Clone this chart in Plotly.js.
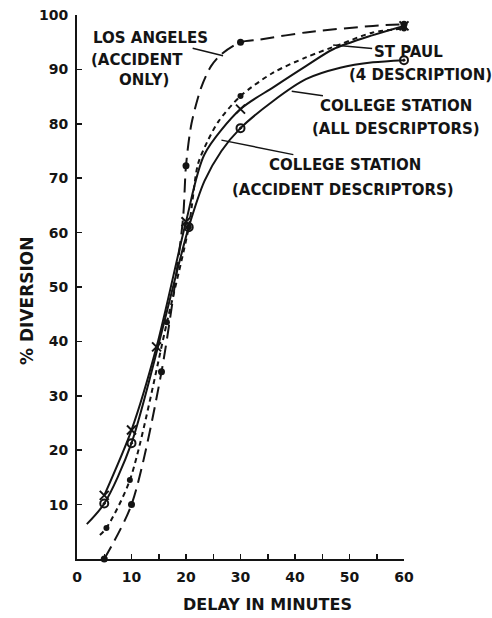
<!DOCTYPE html>
<html>
<head>
<meta charset="utf-8">
<script src="https://cdn.plot.ly/plotly-3.0.1.min.js"></script>
<style>
  html, body { margin: 0; padding: 0; background: #ffffff; }
  #chart { width: 492px; height: 618px; }
</style>
</head>
<body>
<div id="chart"></div>
<script>
// ---- Data (delay in minutes vs % diversion) ----
// Los Angeles (accident only) - long dashes
const laX = [5, 10, 15.5, 20, 30, 60];
const laY = [0, 10, 34.4, 72.3, 95, 98.3];
const laCurveX = [5, 10, 15.5, 19.4, 20, 21, 22.8, 24.6, 26.5, 30, 33.6, 42, 54.3, 60];
const laCurveY = [0, 10, 34.4, 62, 72.3, 80, 86.7, 90.6, 92.8, 95, 95.5, 96.8, 98, 98.3];

// College Station (accident descriptors) - short dashes
const csAccX = [5.4, 9.7, 16.5, 20.5, 30, 60];
const csAccY = [5.7, 14.5, 43.5, 61, 85.1, 97.5];
const csAccCurveX = [4.2, 5.4, 9.7, 16.5, 20.5, 22.2, 24, 26, 30, 36, 42, 48.3, 54.3, 60];
const csAccCurveY = [4.4, 5.7, 14.5, 43.5, 61, 72.6, 76.9, 80.5, 85.1, 89.4, 92.2, 94.6, 96.8, 97.5];

// St Paul (4 description) - solid, x marks
const spX = [5, 10, 14.6, 20, 30, 60];
const spY = [11.7, 23.7, 39, 62, 82.7, 98];
const spCurveX = [5, 10, 14.6, 20, 23.4, 30, 36, 42, 47, 54.3, 60];
const spCurveY = [11.7, 23.7, 39, 62, 74.4, 82.7, 86.7, 90.6, 93.7, 96.3, 98];

// College Station (all descriptors) - solid, circles
const csAllX = [5, 10, 20.5, 30, 60];
const csAllY = [10.2, 21.3, 61, 79.2, 91.7];
const csAllCurveX = [1.8, 5, 10, 20.5, 23.4, 26.5, 30, 36, 42, 48.3, 54.3, 60];
const csAllCurveY = [6.4, 10.2, 21.3, 61, 69.5, 75, 79.2, 84.2, 88.2, 90.3, 91.3, 91.7];

// Tick labels
const xTicks = [0, 10, 20, 30, 40, 50, 60];
const yTicks = [10, 20, 30, 40, 50, 60, 70, 80, 90, 100];

const INK = '#141414';
const FONT = 'DejaVu Sans, sans-serif';

function curve(x, y, dash) {
  return {
    x: x, y: y, type: 'scatter', mode: 'lines', hoverinfo: 'skip',
    line: { color: INK, width: 2, dash: dash, shape: 'spline', smoothing: 0.8 },
    cliponaxis: false, showlegend: false
  };
}
function marks(x, y, symbol, size, lw) {
  return {
    x: x, y: y, type: 'scatter', mode: 'markers', showlegend: false,
    marker: { symbol: symbol, size: size, color: INK, line: { color: INK, width: lw } },
    cliponaxis: false
  };
}

const traces = [
  curve(laCurveX, laCurveY, '14px,7px'),
  curve(csAccCurveX, csAccCurveY, '5px,4px'),
  curve(spCurveX, spCurveY, 'solid'),
  curve(csAllCurveX, csAllCurveY, 'solid'),
  marks(laX, laY, 'circle', 7, 0),
  marks(csAccX, csAccY, 'circle', 6, 0),
  marks(spX, spY, 'x-thin-open', 9, 2),
  marks(csAllX, csAllY, 'circle-open-dot', 8, 2)
];

const txtFont = { family: FONT, size: 15, color: INK, weight: 'bold' };
function px2paperX(p) { return (p - 77) / 327; }
function px2paperY(p) { return (559 - p) / 544; }
function label(text, cx, cy, size) {
  return {
    text: text, xref: 'paper', yref: 'paper', x: px2paperX(cx), y: px2paperY(cy),
    xanchor: 'center', yanchor: 'middle', showarrow: false,
    font: Object.assign({}, txtFont, size ? { size: size } : {})
  };
}
function pointer(text, x, y, ax, ay) {
  return {
    text: text, x: x, y: y, xref: 'x', yref: 'y', ax: ax, ay: ay,
    showarrow: true, arrowhead: 0, arrowwidth: 1.5, arrowcolor: INK, standoff: 0,
    font: txtFont
  };
}

const annotations = [
  pointer('LOS ANGELES', 26.8, 92.5, -73, -18),
  label('(ACCIDENT', 137, 60),
  label('ONLY)', 144, 80),
  pointer('ST PAUL', 47, 94.5, 75, 7),
  label('(4 DESCRIPTION)', 420, 75),
  pointer('COLLEGE STATION', 39.4, 86, 104, 15),
  label('(ALL DESCRIPTORS)', 396, 129),
  pointer('COLLEGE STATION', 26.5, 77, 124, 25),
  label('(ACCIDENT DESCRIPTORS)', 343, 190),
  label('DELAY IN MINUTES', 267, 604, 16),
  Object.assign(label('% DIVERSION', 27, 301, 17), { textangle: -90 })
];

const layout = {
  width: 492, height: 618,
  margin: { l: 77, r: 88, t: 15, b: 59 },
  paper_bgcolor: '#ffffff', plot_bgcolor: '#ffffff',
  showlegend: false,
  xaxis: {
    range: [0, 60], tickvals: xTicks, ticktext: xTicks.map(String),
    showline: true, linecolor: INK, linewidth: 2, mirror: false,
    ticks: 'inside', ticklen: 5, tickwidth: 1.5, tickcolor: INK,
    minor: { dtick: 5, tick0: 0, ticks: 'inside', ticklen: 5, tickwidth: 1.5, tickcolor: INK },
    showgrid: false, zeroline: false, ticklabelstandoff: 4,
    tickfont: { family: FONT, size: 14, color: INK, weight: 'bold' }
  },
  yaxis: {
    range: [0, 100], tickvals: yTicks, ticktext: yTicks.map(String),
    showline: true, linecolor: INK, linewidth: 2, mirror: false,
    ticks: 'inside', ticklen: 5, tickwidth: 1.5, tickcolor: INK,
    showgrid: false, zeroline: false, ticklabelstandoff: 4,
    tickfont: { family: FONT, size: 14, color: INK, weight: 'bold' }
  },
  annotations: annotations
};

Plotly.newPlot('chart', traces, layout, { staticPlot: true, displayModeBar: false });
</script>
</body>
</html>
